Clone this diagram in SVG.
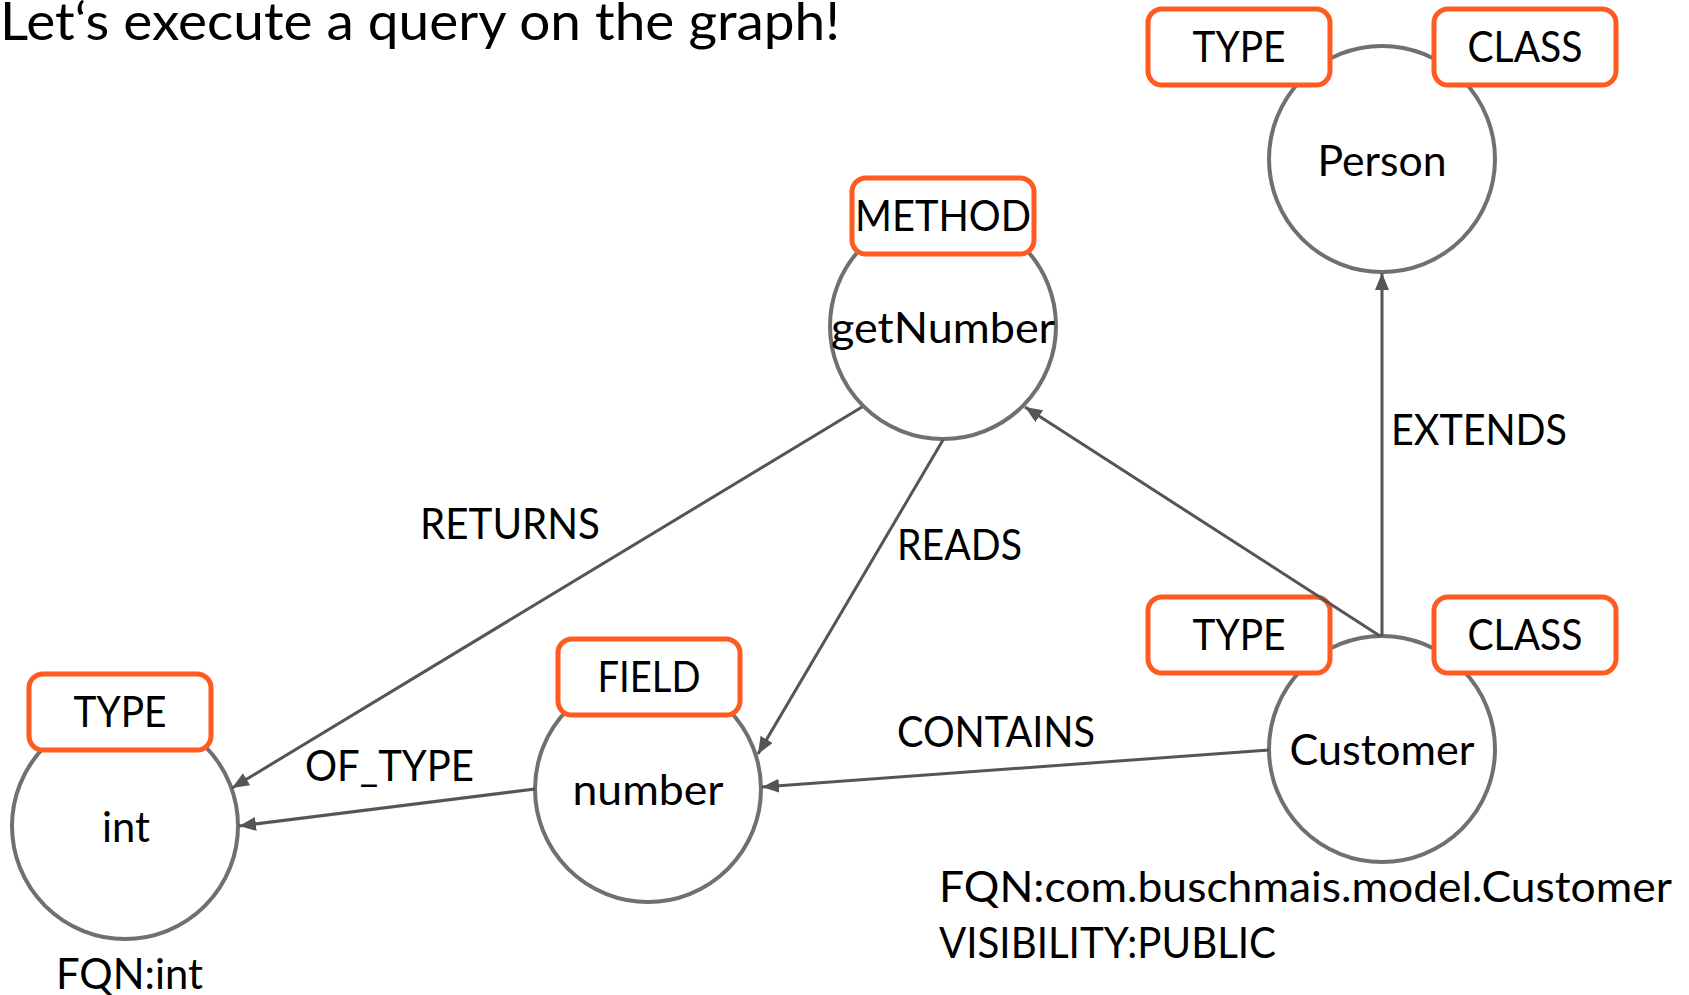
<svg xmlns="http://www.w3.org/2000/svg" width="1689" height="995" viewBox="0 0 1689 995">
<defs>
<style>
text{font-family:Lato,"Open Sans","Liberation Sans",sans-serif;fill:#000;}
.t{font-size:53px;}
.n{font-size:43px;text-anchor:middle;}
.l{font-size:43px;}
.lbl{font-size:43px;text-anchor:middle;}
.c{fill:#fff;stroke:#707070;stroke-width:4;}
.b{fill:#fff;stroke:#FF5A1F;stroke-width:5;}
.e{fill:none;stroke:#555;stroke-width:3;marker-end:url(#ah);}
</style>
<marker id="ah" markerWidth="17" markerHeight="14" refX="17" refY="7" orient="auto" markerUnits="userSpaceOnUse">
<path d="M0,0 L17,7 L0,14 Z" fill="#555"/>
</marker>
</defs>
<rect width="1689" height="995" fill="#fff"/>
<text class="t" x="0" y="40" textLength="840" lengthAdjust="spacingAndGlyphs">Let‘s execute a query on the graph!</text>

<g id="node-person">
<circle class="c" cx="1382" cy="159" r="113"/>
<rect class="b" x="1148" y="9" width="182" height="76" rx="14"/>
<text class="lbl" x="1239" y="62" textLength="93" lengthAdjust="spacingAndGlyphs">TYPE</text>
<rect class="b" x="1434" y="9" width="182" height="76" rx="14"/>
<text class="lbl" x="1525" y="62" textLength="115" lengthAdjust="spacingAndGlyphs">CLASS</text>
<text class="n" x="1382" y="176" textLength="129" lengthAdjust="spacingAndGlyphs">Person</text>
</g>

<g id="node-getNumber">
<circle class="c" cx="943" cy="326" r="113"/>
<rect class="b" x="852" y="178" width="182" height="76" rx="14"/>
<text class="lbl" x="943" y="231" textLength="176" lengthAdjust="spacingAndGlyphs">METHOD</text>
<text class="n" x="943" y="343" textLength="224" lengthAdjust="spacingAndGlyphs">getNumber</text>
</g>

<g id="node-int">
<circle class="c" cx="125" cy="826" r="113"/>
<rect class="b" x="29" y="674" width="182" height="76" rx="14"/>
<text class="lbl" x="120" y="727" textLength="93" lengthAdjust="spacingAndGlyphs">TYPE</text>
<text class="n" x="126" y="842" textLength="48" lengthAdjust="spacingAndGlyphs">int</text>
<text class="l" x="56" y="989" textLength="147" lengthAdjust="spacingAndGlyphs">FQN:int</text>
</g>

<g id="node-number">
<circle class="c" cx="648" cy="789" r="113"/>
<rect class="b" x="558" y="639" width="182" height="76" rx="14"/>
<text class="lbl" x="649" y="692" textLength="103" lengthAdjust="spacingAndGlyphs">FIELD</text>
<text class="n" x="648" y="805" textLength="151" lengthAdjust="spacingAndGlyphs">number</text>
</g>

<g id="node-customer">
<circle class="c" cx="1382" cy="749" r="113"/>
<rect class="b" x="1148" y="597" width="182" height="76" rx="14"/>
<text class="lbl" x="1239" y="650" textLength="93" lengthAdjust="spacingAndGlyphs">TYPE</text>
<rect class="b" x="1434" y="597" width="182" height="76" rx="14"/>
<text class="lbl" x="1525" y="650" textLength="115" lengthAdjust="spacingAndGlyphs">CLASS</text>
<text class="n" x="1382" y="765" textLength="185" lengthAdjust="spacingAndGlyphs">Customer</text>
<text class="l" x="939" y="902" textLength="733" lengthAdjust="spacingAndGlyphs">FQN:com.buschmais.model.Customer</text>
<text class="l" x="939" y="958" textLength="337" lengthAdjust="spacingAndGlyphs">VISIBILITY:PUBLIC</text>
</g>

<g id="connectors">
<line class="e" x1="862" y1="407" x2="232" y2="788"/>
<line class="e" x1="943" y1="440" x2="758" y2="754"/>
<line class="e" x1="1380" y1="636" x2="1025" y2="407"/>
<line class="e" x1="1382" y1="636" x2="1382" y2="273"/>
<line class="e" x1="1269" y1="750" x2="762" y2="787"/>
<line class="e" x1="535" y1="789" x2="239" y2="826"/>
<text class="l" x="420" y="539" textLength="180" lengthAdjust="spacingAndGlyphs">RETURNS</text>
<text class="l" x="897" y="560" textLength="125" lengthAdjust="spacingAndGlyphs">READS</text>
<text class="l" x="1391" y="445" textLength="176" lengthAdjust="spacingAndGlyphs">EXTENDS</text>
<text class="l" x="897" y="747" textLength="198" lengthAdjust="spacingAndGlyphs">CONTAINS</text>
<text class="l" x="305" y="781" textLength="169" lengthAdjust="spacingAndGlyphs">OF_TYPE</text>
</g>
</svg>
